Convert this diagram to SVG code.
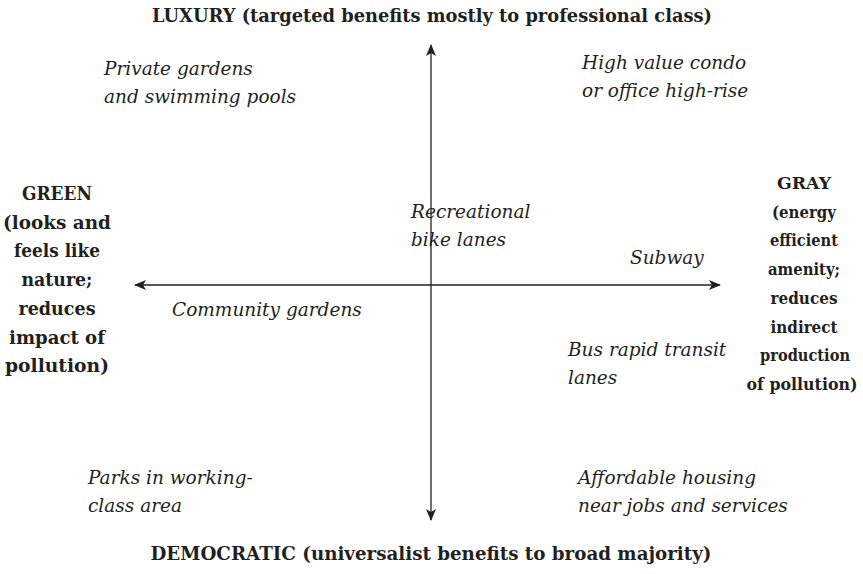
<svg xmlns="http://www.w3.org/2000/svg" width="863" height="574" viewBox="0 0 863 574">
<style>
text{font-family:'DejaVu Serif','Liberation Serif',serif;font-size:18.5px;fill:#231f20}
.b{font-weight:bold;text-anchor:middle;font-size:18px}
.g{font-size:16.5px}
.i{font-style:italic}
.ax{stroke:#231f20;stroke-width:1.3;fill:none}
</style>
<defs>
<marker id="ah" viewBox="0 0 12 10" refX="11" refY="5" markerWidth="12" markerHeight="10" markerUnits="userSpaceOnUse" orient="auto">
<path d="M0,0 L12,5 L0,10 L3,5 Z" fill="#231f20"/>
</marker>
</defs>
<g id="connectors">
<line class="ax" x1="431" y1="285" x2="431" y2="45" marker-end="url(#ah)"/>
<line class="ax" x1="431" y1="285" x2="431" y2="520" marker-end="url(#ah)"/>
<line class="ax" x1="431" y1="285" x2="135" y2="285" marker-end="url(#ah)"/>
<line class="ax" x1="431" y1="285" x2="720" y2="285" marker-end="url(#ah)"/>
</g>
<g id="luxury"><text class="b" x="432" y="22" textLength="560" lengthAdjust="spacingAndGlyphs">LUXURY (targeted benefits mostly to professional class)</text></g>
<g id="democratic"><text class="b" x="431" y="560" textLength="561" lengthAdjust="spacingAndGlyphs">DEMOCRATIC (universalist benefits to broad majority)</text></g>
<g id="green">
<text class="b" x="57" y="200" textLength="70" lengthAdjust="spacingAndGlyphs">GREEN</text>
<text class="b" x="57" y="228.7" textLength="108" lengthAdjust="spacingAndGlyphs">(looks and</text>
<text class="b" x="57" y="257.4" textLength="86" lengthAdjust="spacingAndGlyphs">feels like</text>
<text class="b" x="57" y="286.1" textLength="71" lengthAdjust="spacingAndGlyphs">nature;</text>
<text class="b" x="57" y="314.8" textLength="77" lengthAdjust="spacingAndGlyphs">reduces</text>
<text class="b" x="57" y="343.5" textLength="96" lengthAdjust="spacingAndGlyphs">impact of</text>
<text class="b" x="57" y="372.2" textLength="104" lengthAdjust="spacingAndGlyphs">pollution)</text>
</g>
<g id="gray">
<text class="b g" x="804" y="189" textLength="54" lengthAdjust="spacingAndGlyphs">GRAY</text>
<text class="b g" x="804" y="217.7" textLength="64" lengthAdjust="spacingAndGlyphs">(energy</text>
<text class="b g" x="804" y="246.4" textLength="68" lengthAdjust="spacingAndGlyphs">efficient</text>
<text class="b g" x="804" y="275.1" textLength="72" lengthAdjust="spacingAndGlyphs">amenity;</text>
<text class="b g" x="804" y="303.8" textLength="67" lengthAdjust="spacingAndGlyphs">reduces</text>
<text class="b g" x="804" y="332.5" textLength="67" lengthAdjust="spacingAndGlyphs">indirect</text>
<text class="b g" x="805" y="361.2" textLength="90" lengthAdjust="spacingAndGlyphs">production</text>
<text class="b g" x="802" y="389.9" textLength="111" lengthAdjust="spacingAndGlyphs">of pollution)</text>
</g>
<g id="private-gardens"><text class="i" x="104" y="75">Private gardens<tspan x="104" dy="28">and swimming pools</tspan></text></g>
<g id="high-value"><text class="i" x="582" y="69">High value condo<tspan x="582" dy="28">or office high-rise</tspan></text></g>
<g id="recreational"><text class="i" x="411" y="218">Recreational<tspan x="411" dy="28">bike lanes</tspan></text></g>
<g id="subway"><text class="i" x="630" y="264">Subway</text></g>
<g id="community"><text class="i" x="172" y="316">Community gardens</text></g>
<g id="brt"><text class="i" x="568" y="356">Bus rapid transit<tspan x="568" dy="28">lanes</tspan></text></g>
<g id="parks"><text class="i" x="88" y="484">Parks in working-<tspan x="88" dy="28">class area</tspan></text></g>
<g id="affordable"><text class="i" x="578" y="484">Affordable housing<tspan x="578" dy="28">near jobs and services</tspan></text></g>
</svg>
